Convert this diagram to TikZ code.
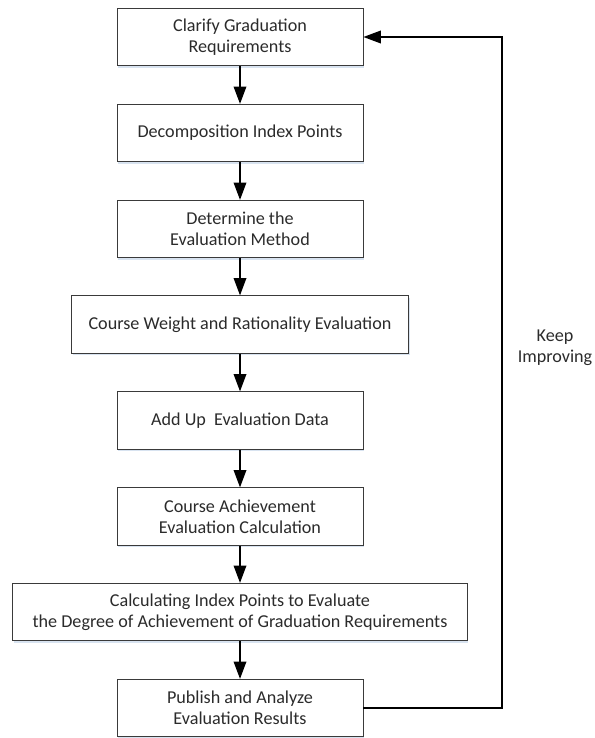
\documentclass[tikz,border=0pt]{standalone}
\usepackage{fontspec}
\setmainfont{Carlito}
\usepackage{xcolor}
\usepackage{tikz}
\usetikzlibrary{arrows.meta,shadows}
\definecolor{BoxLine}{HTML}{3A3A3A}
\definecolor{TextDark}{HTML}{2B2B2B}
\definecolor{ShadeBlue}{HTML}{B8CCE4}

\begin{document}
\begin{tikzpicture}[x=0.75pt,y=-0.75pt,
          every node/.style={font=\fontsize{13.6pt}{15.9pt}\selectfont, text=TextDark},
          stepbox/.style={draw=BoxLine, line width=0.7pt, fill=white,
            minimum height=43pt, inner sep=4pt, align=center,
            drop shadow={shadow xshift=0.8pt, shadow yshift=-1.6pt,
              fill=ShadeBlue, opacity=0.55}},
          ar/.style={-{Triangle[length=13pt,width=9.5pt]}, line width=1pt, black}]
        \useasboundingbox (0,0) rectangle (594,738);
        \node[stepbox, minimum width=184.5pt] (s1) at (240,37)
        {Clarify Graduation\\ Requirements};
        \node[stepbox, minimum width=184.5pt] (s2) at (240,133)
        {Decomposition Index Points};
        \node[stepbox, minimum width=184.5pt] (s3) at (240,229)
        {Determine the\\ Evaluation Method};
        \node[stepbox, minimum width=252.75pt] (s4) at (240,324.5)
        {Course Weight and Rationality Evaluation};
        \node[stepbox, minimum width=184.5pt] (s5) at (240,420.5)
        {Add Up\ \ Evaluation Data};
        \node[stepbox, minimum width=184.5pt] (s6) at (240,516.5)
        {Course Achievement\\ Evaluation Calculation};
        \node[stepbox, minimum width=341pt] (s7) at (240,612)
        {Calculating Index Points to Evaluate\\
          the Degree of Achievement of Graduation Requirements};
        \node[stepbox, minimum width=184.5pt] (s8) at (240,708)
        {Publish and Analyze\\ Evaluation Results};
        \coordinate (lp) at (502,0);
        \node[align=center, inner sep=0pt] (keep) at (555,348) {Keep\\ Improving};
        \draw[ar](s1)--(s2); \draw[ar](s2)--(s3); \draw[ar](s3)--(s4);
        \draw[ar](s4)--(s5); \draw[ar](s5)--(s6); \draw[ar](s6)--(s7);
        \draw[ar](s7)--(s8);
        \draw[ar](s8.east)--(s8.east -| lp) |- (s1.east);
      \end{tikzpicture}
\end{document}
